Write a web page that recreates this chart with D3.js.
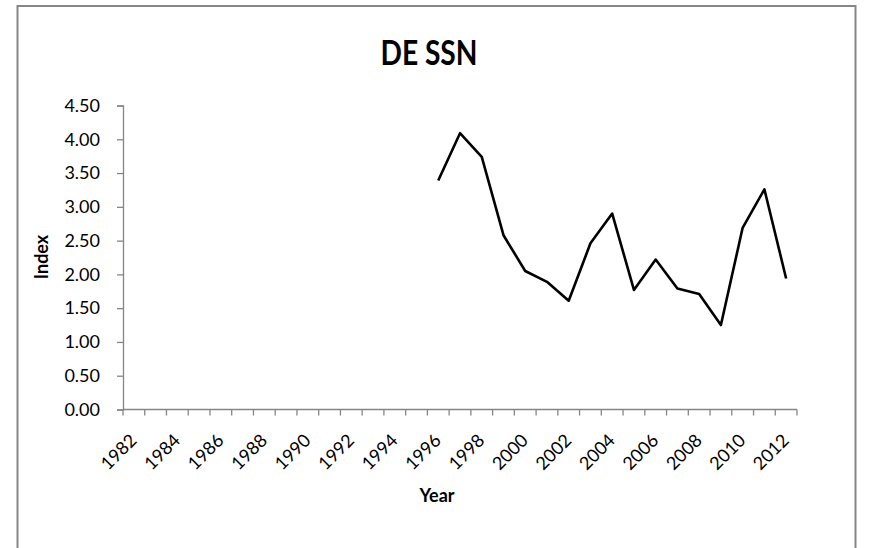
<!DOCTYPE html>
<html>
<head>
<meta charset="utf-8">
<script src="https://cdn.jsdelivr.net/npm/d3@7"></script>
<style>
  body { margin: 0; background: #fff; }
  svg { display: block; font-family: Lato, "Open Sans", sans-serif; }
</style>
</head>
<body>
<svg class="chart" width="873" height="548"></svg>
<script>
// data
var years = d3.range(1982, 2013);
var dataYears = [1996, 1997, 1998, 1999, 2000, 2001, 2002, 2003, 2004,
                 2005, 2006, 2007, 2008, 2009, 2010, 2011, 2012];
var dataValues = [3.39, 4.09, 3.74, 2.58, 2.05, 1.89, 1.61, 2.46, 2.90,
                  1.77, 2.22, 1.79, 1.71, 1.25, 2.69, 3.26, 1.94];
var yTicks = [0, 0.5, 1, 1.5, 2, 2.5, 3, 3.5, 4, 4.5];
var xLabels = years.filter(function(y) { return y % 2 == 0; });

var svg = d3.select(".chart");
var axisColor = "#868686";

// chart frame (bottom runs off the picture)
svg.append("rect")
    .attr("x", 17.5)
    .attr("y", 6)
    .attr("width", 838)
    .attr("height", 600)
    .attr("fill", "#fff")
    .attr("stroke", axisColor)
    .attr("stroke-width", 2);

var plotLeft = 123, plotRight = 797, plotTop = 105.5, plotBottom = 409.5;

var x = d3.scaleBand().domain(years).range([plotLeft, plotRight]);
var y = d3.scaleLinear().domain([0, 4.5]).range([plotBottom, plotTop]);

// title, squeezed a little to get Calibri's proportions
svg.append("text")
    .attr("x", 429)
    .attr("y", 65)
    .attr("text-anchor", "middle")
    .attr("font-size", 34)
    .attr("font-weight", "bold")
    .attr("textLength", 97)
    .attr("lengthAdjust", "spacingAndGlyphs")
    .text("DE SSN");

// y axis
var gy = svg.append("g")
    .attr("transform", "translate(" + plotLeft + ",0)")
    .call(d3.axisLeft(y).tickValues(yTicks).tickSize(6).tickPadding(17)
        .tickFormat(d3.format(".2f")));
gy.select(".domain").attr("stroke", axisColor).attr("stroke-width", 1.3);
gy.selectAll(".tick line").attr("stroke", axisColor).attr("stroke-width", 1.3);
gy.selectAll(".tick text")
    .attr("font-size", 18)
    .attr("fill", "#000")
    .style("font-family", "Lato, sans-serif");

// x axis: ticks between categories
var gx = svg.append("g").attr("transform", "translate(0," + plotBottom + ")");
gx.append("line")
    .attr("x1", plotLeft).attr("x2", plotRight)
    .attr("stroke", axisColor).attr("stroke-width", 1.3);
var edges = years.map(function(d) { return x(d); }).concat([plotRight]);
gx.selectAll(".xt")
    .data(edges)
    .enter()
    .append("line")
    .attr("x1", function(d) { return d; })
    .attr("x2", function(d) { return d; })
    .attr("y1", 0)
    .attr("y2", 6)
    .attr("stroke", axisColor)
    .attr("stroke-width", 1.3);
gx.selectAll(".xl")
    .data(xLabels)
    .enter()
    .append("text")
    .attr("transform", function(d) {
        return "translate(" + (x(d) + x.bandwidth() / 2 + 4) + ",32) rotate(-45)";
    })
    .attr("text-anchor", "end")
    .attr("font-size", 18)
    .text(function(d) { return d; });

// axis titles
svg.append("text")
    .attr("x", 437)
    .attr("y", 502)
    .attr("text-anchor", "middle")
    .attr("font-size", 18)
    .attr("font-weight", "bold")
    .text("Year");

svg.append("text")
    .attr("transform", "translate(48,257) rotate(-90)")
    .attr("text-anchor", "middle")
    .attr("font-size", 18)
    .attr("font-weight", "bold")
    .text("Index");

// series
var line = d3.line()
    .x(function(d, i) { return x(dataYears[i]) + x.bandwidth() / 2; })
    .y(function(d) { return y(d); });

svg.append("path")
    .datum(dataValues)
    .attr("d", line)
    .attr("fill", "none")
    .attr("stroke", "#000")
    .attr("stroke-width", 2.6)
    .attr("stroke-linejoin", "round");
</script>
</body>
</html>
